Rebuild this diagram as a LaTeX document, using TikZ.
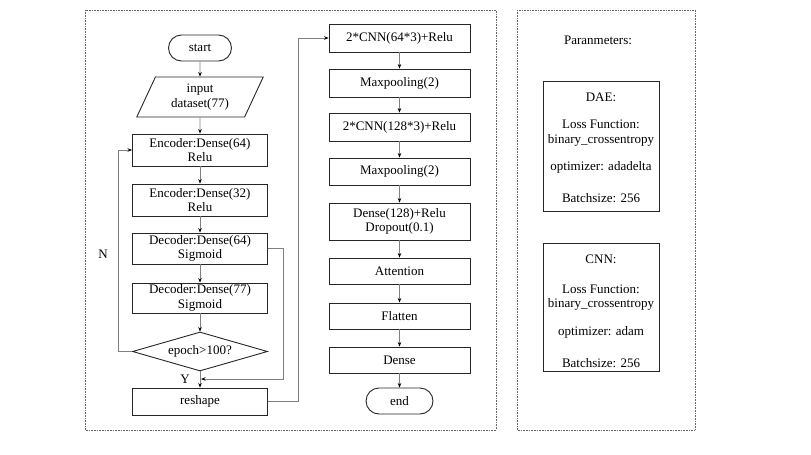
\documentclass[tikz,border=0pt]{standalone}
\usepackage{fontspec}
\setmainfont{Liberation Serif}
\usetikzlibrary{arrows.meta,shapes.geometric,shapes.misc}
\begin{document}
\begin{tikzpicture}[x=1pt,y=-1pt,
  box/.style={draw=black!85,line width=0.9pt,rectangle,inner sep=0pt,align=center,font=\fontsize{13}{14.5}\selectfont},
  term/.style={box,rounded rectangle},
  io/.style={draw=black!85,line width=0.9pt,trapezium,trapezium left angle=65,trapezium right angle=115,inner sep=0pt,align=center,font=\fontsize{13}{14.5}\selectfont},
  dec/.style={draw=black!85,line width=0.9pt,diamond,inner sep=0pt,aspect=3.4,font=\fontsize{13}{14.5}\selectfont},
  conn/.style={draw=black!50,line width=0.7pt,-{Stealth[length=4.5pt,width=3.5pt,black]}},
  plain/.style={draw=black!50,line width=0.7pt},
  panel/.style={draw=black!60,line width=0.6pt,densely dotted},
  ptext/.style={align=center,font=\fontsize{13}{14.5}\selectfont},
  lbl/.style={font=\fontsize{13}{14.5}\selectfont}
]
\useasboundingbox (0,0) rectangle (811,455);
% panels
\draw[panel] (85,10) rectangle (496,430);
\draw[panel] (517,10) rectangle (695,430);

% left column
\node[term,minimum width=63pt,minimum height=26pt] (start) at (200,48) {start};
\node[io,minimum width=113pt,minimum height=40pt] (input) at (200,97) {input\\dataset(77)};
\node[box,minimum width=135pt,minimum height=32pt] (enc1) at (200,150) {Encoder:Dense(64)\\Relu};
\node[box,minimum width=135pt,minimum height=32pt] (enc2) at (200,200) {Encoder:Dense(32)\\Relu};
\node[box,minimum width=135pt,minimum height=31pt] (dec1) at (200,248.5) {Decoder:Dense(64)\\Sigmoid};
\node[box,minimum width=135pt,minimum height=30pt] (dec2) at (200,298) {Decoder:Dense(77)\\Sigmoid};
\node[dec,minimum width=135pt,minimum height=39pt] (cond) at (200,351.5) {epoch>100?};
\node[box,minimum width=135pt,minimum height=27pt] (reshape) at (200,401.5) {reshape};

% right column
\node[box,minimum width=141pt,minimum height=28pt] (cnn1) at (399.5,38) {2*CNN(64*3)+Relu};
\node[box,minimum width=141pt,minimum height=28pt] (mp1) at (399.5,83) {Maxpooling(2)};
\node[box,minimum width=141pt,minimum height=28pt] (cnn2) at (399.5,127) {2*CNN(128*3)+Relu};
\node[box,minimum width=141pt,minimum height=27pt] (mp2) at (399.5,171.5) {Maxpooling(2)};
\node[box,minimum width=141pt,minimum height=37pt] (dense1) at (399.5,221.5) {Dense(128)+Relu\\Dropout(0.1)};
\node[box,minimum width=141pt,minimum height=26pt] (att) at (399.5,271) {Attention};
\node[box,minimum width=141pt,minimum height=26pt] (flat) at (399.5,316) {Flatten};
\node[box,minimum width=141pt,minimum height=26pt] (dense2) at (399.5,360) {Dense};
\node[term,minimum width=67pt,minimum height=26pt] (end) at (399.5,401) {end};

% connectors left
\draw[conn] (start) -- (input);
\draw[conn] (input) -- (enc1);
\draw[conn] (enc1) -- (enc2);
\draw[conn] (enc2) -- (dec1);
\draw[conn] (dec1) -- (dec2);
\draw[conn] (dec2) -- (cond);
\draw[conn] (cond) -- (reshape);
\draw[conn] (cond.west) -- (118,351.5) -- (118,150) -- (enc1.west);
\coordinate (join) at (201,379);
\draw[conn] (dec1.east) -- (283,248.5) -- (283,379) -- (join);
\draw[conn] (reshape.east) -- (298,401.5) -- (298,38) -- (cnn1.west);
\node[lbl] (N) at (103,254) {N};
\node[lbl] (Y) at (185,379) {Y};

% connectors right
\draw[conn] (cnn1) -- (mp1);
\draw[conn] (mp1) -- (cnn2);
\draw[conn] (cnn2) -- (mp2);
\draw[conn] (mp2) -- (dense1);
\draw[conn] (dense1) -- (att);
\draw[conn] (att) -- (flat);
\draw[conn] (flat) -- (dense2);
\draw[conn] (dense2) -- (end);

% parameters
\node[ptext] (ptitle) at (598,40) {Paranmeters:};
\node[draw=black!85,line width=0.9pt,minimum width=116pt,minimum height=130pt] (dae) at (601,146) {};
\node[ptext] (daet) at (601,97) {DAE:};
\node[ptext] (dael) at (601,133) {Loss Function:\\binary\_crossentropy};
\node[ptext] (daeo) at (601,167) {optimizer: adadelta};
\node[ptext] (daeb) at (601,198) {Batchsize: 256};

\node[draw=black!85,line width=0.9pt,minimum width=116pt,minimum height=128pt] (cnnp) at (601,307) {};
\node[ptext] (cnnt) at (601,259) {CNN:};
\node[ptext] (cnnl) at (601,297.5) {Loss Function:\\binary\_crossentropy};
\node[ptext] (cnno) at (601,332) {optimizer: adam};
\node[ptext] (cnnb) at (601,363) {Batchsize: 256};
\end{tikzpicture}
\end{document}
